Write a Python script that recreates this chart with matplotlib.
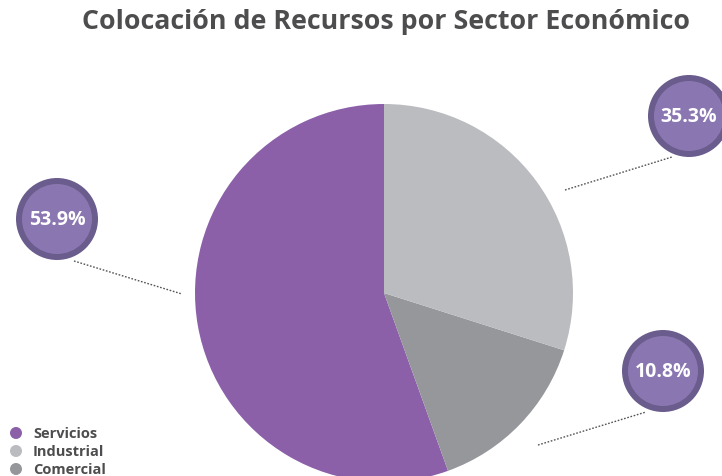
import matplotlib
matplotlib.use("Agg")
import matplotlib.pyplot as plt
from matplotlib.patches import Circle

# ---- data ----
categories = ["Servicios", "Industrial", "Comercial"]
slice_values = [55.5, 29.9, 14.6]          # slice sizes as drawn
label_texts = ["53.9%", "35.3%", "10.8%"]  # labels shown in bubbles
colors = ["#8B60A9", "#BBBCC0", "#96979B"]

W, H = 722, 477
fig = plt.figure(figsize=(W / 100, H / 100), dpi=100)
ax = fig.add_axes([0, 0, 1, 1])

def Y(y):
    return H - y

FONT = ["Open Sans", "DejaVu Sans"]
TXT = "#4D4D4F"

# pie: counterclockwise from top -> Servicios, Comercial, Industrial
order = [0, 2, 1]
ax.pie([slice_values[i] for i in order], colors=[colors[i] for i in order],
       startangle=90, counterclock=True, center=(384, Y(294)), radius=189,
       wedgeprops=dict(linewidth=0), frame=True)
ax.set_xlim(0, W)
ax.set_ylim(0, H)
ax.set_aspect("equal")
ax.axis("off")

# bubbles and leader lines
bubbles = {0: (57, 220), 1: (689, 117), 2: (663, 372)}
lines = {0: ((74, 262), (182, 295)), 1: ((565, 191), (672, 158)), 2: ((538, 446), (646, 413))}
for i in range(3):
    (x1, y1), (x2, y2) = lines[i]
    ax.plot([x1, x2], [Y(y1), Y(y2)], linestyle=(0, (1.2, 1.2)), color="#555555", lw=1.0, zorder=3)
    cx, cy = bubbles[i]
    ax.add_patch(Circle((cx, Y(cy)), 41, facecolor="#6A5C8C", edgecolor="none", zorder=4))
    ax.add_patch(Circle((cx, Y(cy)), 35, facecolor="#8A76B1", edgecolor="none", zorder=5))
    ax.text(cx, Y(cy), label_texts[i], color="white", fontsize=14, fontweight="bold",
            family=FONT, ha="center", va="center", zorder=6)

# title
ax.text(386, Y(22), "Colocación de Recursos por Sector Económico", color=TXT,
        fontsize=19.3, fontweight="bold", family=FONT, ha="center", va="center")

# legend
for k, name in enumerate(categories):
    yy = 434 + k * 18
    ax.add_patch(Circle((16, Y(yy)), 6, facecolor=colors[k], edgecolor="none"))
    ax.text(33, Y(yy), name, color=TXT, fontsize=10.5, fontweight="bold",
            family=FONT, ha="left", va="center")

fig.savefig("out.png", dpi=100)
